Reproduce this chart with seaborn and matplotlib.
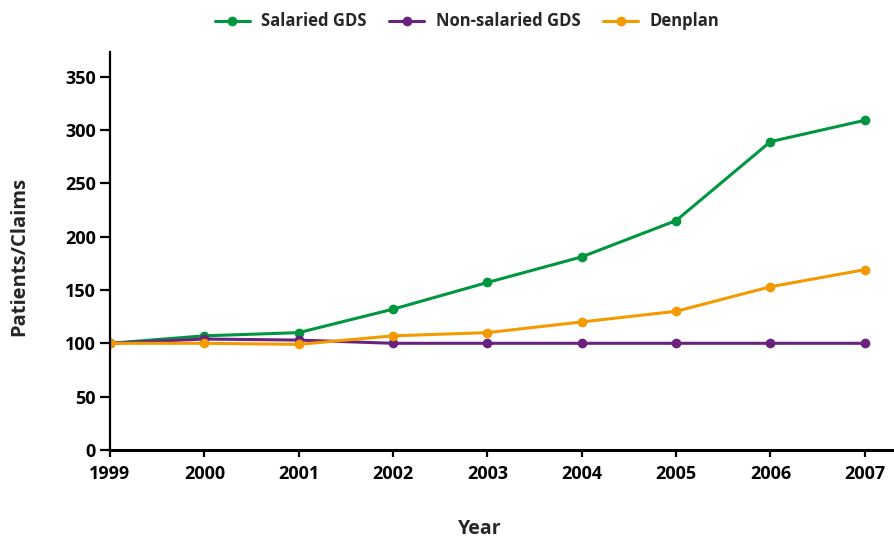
import matplotlib
matplotlib.use("Agg")
import matplotlib.pyplot as plt
import seaborn as sns
import pandas as pd

years = [1999, 2000, 2001, 2002, 2003, 2004, 2005, 2006, 2007]
salaried = [100, 107, 110, 132, 157, 181, 215, 289, 309]
non_salaried = [100, 104, 103, 100, 100, 100, 100, 100, 100]
denplan = [100, 100, 99, 107, 110, 120, 130, 153, 169]
series_names = ["Salaried GDS", "Non-salaried GDS", "Denplan"]
colors = ["#00963F", "#69237F", "#F39A00"]
y_ticks = [0, 50, 100, 150, 200, 250, 300, 350]

rows = []
for name, vals in zip(series_names, [salaried, non_salaried, denplan]):
    for yr, v in zip(years, vals):
        rows.append({"Year": yr, "Value": v, "Series": name})
df = pd.DataFrame(rows)

sns.set_style("white")
plt.rcParams["font.family"] = ["Open Sans", "DejaVu Sans"]
plt.rcParams["font.weight"] = "bold"

fig = plt.figure(figsize=(8.95, 5.38), dpi=100)
ax = fig.add_axes([110 / 895, 88 / 538, 785 / 895, 398 / 538])

sns.lineplot(data=df, x="Year", y="Value", hue="Series", hue_order=series_names,
             palette=colors, marker="o", markersize=7, markeredgewidth=0,
             linewidth=2.2, ax=ax)

ax.set_xlim(1999, 2007.32)
ax.set_ylim(0, 373)
ax.set_xticks(years)
ax.set_xticklabels([str(y) for y in years])
ax.set_yticks(y_ticks)
for s in ["top", "right"]:
    ax.spines[s].set_visible(False)
ax.spines["bottom"].set_linewidth(2.2)
ax.spines["left"].set_linewidth(1.6)
ax.spines["bottom"].set_color("black")
ax.spines["left"].set_color("black")
ax.tick_params(axis="x", direction="out", length=5, width=1.6, colors="black",
               labelsize=13, pad=6, bottom=True)
ax.tick_params(axis="y", direction="out", length=7, width=1.6, colors="black",
               labelsize=13, pad=3, left=True)
for lab in ax.get_xticklabels() + ax.get_yticklabels():
    lab.set_fontweight("bold")

ax.set_xlabel("Year", fontsize=14, fontweight="bold")
ax.xaxis.set_label_coords((480 - 110) / 785, -(519 - 450) / 398)
ax.set_ylabel("Patients/Claims", fontsize=14.5, fontweight="bold")
ax.yaxis.set_label_coords(-(110 - 29) / 785, (450 - 256) / 398)

handles, labels = ax.get_legend_handles_labels()
leg = ax.legend(handles, labels, loc="upper center", bbox_to_anchor=(467 / 895, 1.0),
                bbox_transform=fig.transFigure, ncol=3, frameon=False,
                fontsize=12, handlelength=2.1, columnspacing=1.35, handletextpad=0.7,
                borderaxespad=0.35)
for t in leg.get_texts():
    t.set_fontweight("bold")

fig.savefig("out.png", dpi=100)
